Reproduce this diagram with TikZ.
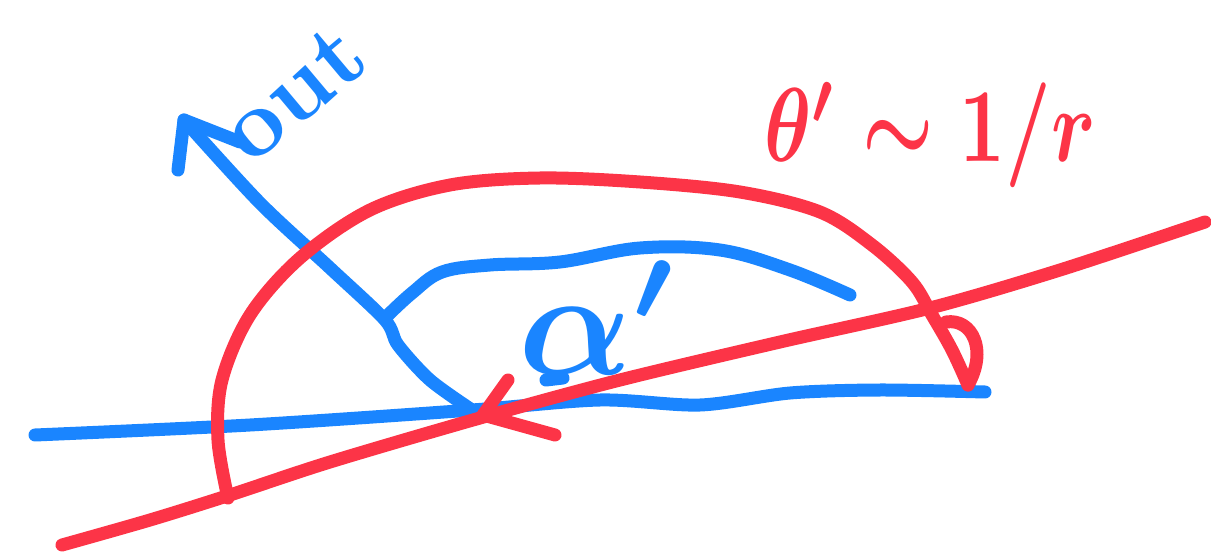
\documentclass[tikz,border=0pt]{standalone}
\definecolor{penblue}{RGB}{26,133,255}
\definecolor{penred}{RGB}{252,52,71}
\tikzset{
  bluepen/.style={draw=penblue,line width=13pt,line cap=round,line join=round},
  redpen/.style={draw=penred,line width=13pt,line cap=round,line join=round},
  bluetext/.style={text=penblue,inner sep=0pt,font=\boldmath\bfseries},
  redtext/.style={text=penred,inner sep=0pt,font=\boldmath\bfseries}
}
\begin{document}
\begin{tikzpicture}[x=1pt,y=-1pt]
\useasboundingbox (0,0) rectangle (1211,556);
% key points
\coordinate (hit) at (472,410);
\coordinate (ntip) at (184,120);
% blue surface line
\draw[bluepen] plot[smooth,tension=0.5] coordinates {(35,435) (250,425) (hit) (600,400) (700,405) (790,393) (880,390) (985,392)};
% blue normal with arrowhead
\draw[bluepen] plot[smooth,tension=0.5] coordinates {(hit) (430,380) (398,345) (385,320) (330,268) (260,203) (ntip)};
\draw[bluepen] (178,170) -- (ntip) -- (240,142);
% blue alpha arc
\draw[bluepen] plot[smooth,tension=0.6] coordinates {(385,318) (412,293) (442,272) (490,265) (560,262) (640,248) (720,250) (790,270) (850,295)};
\draw[bluepen] (546,380) -- (563,378);
% red line
\draw[redpen] plot[smooth,tension=0.5] coordinates {(62,545) (150,520) (230,495) (330,462) (480,418) (620,380) (780,342) (930,308) (1060,270) (1205,222)};
% red arrowhead
\draw[redpen] (508,380) -- (483,415) -- (555,435);
% red big arc
\draw[redpen] plot[smooth,tension=0.55] coordinates {(228,498) (218,440) (222,380) (250,315) (300,258) (370,210) (450,185) (540,178) (640,182) (740,192) (820,212) (872,245) (912,282) (932,315) (952,350) (968,385)};
\draw[redpen] (968,385) .. controls (988,350) and (972,318) .. (946,322);
% labels
\node[bluetext,rotate=40,scale=9.5] (nout) at (293,93) {out};
\node[bluetext,scale=15] (lbla) at (600,318) {$\alpha^{\prime}$};
\node[redtext,scale=10.5,xscale=0.76] (lblt) at (930,135) {$\theta^{\prime}\sim 1/r$};
\end{tikzpicture}
\end{document}
